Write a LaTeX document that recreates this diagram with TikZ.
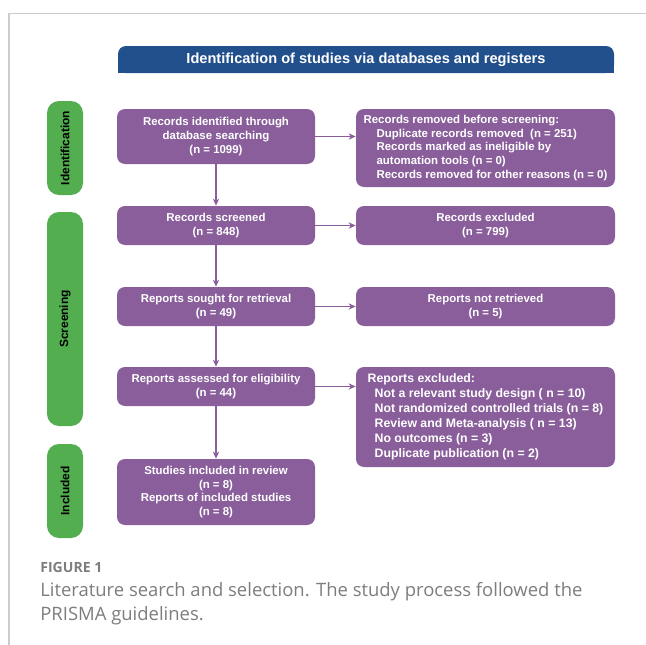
\documentclass[tikz,border=0pt]{standalone}
\usepackage{fontspec}
\setmainfont{Liberation Sans}
\newfontfamily\capfont{Open Sans}
\usetikzlibrary{arrows.meta}

\definecolor{boxpurple}{RGB}{137,94,155}
\definecolor{stagegreen}{RGB}{82,174,79}
\definecolor{headblue}{RGB}{34,80,140}
\definecolor{framegrey}{RGB}{204,204,204}
\definecolor{capgrey}{RGB}{125,125,125}

\tikzset{
  flowbox/.style={fill=boxpurple, rounded corners=0.16cm, text=white, inner sep=0pt,
    font=\fontsize{6.5}{7.9}\selectfont\bfseries, align=center},
  leftbox/.style={flowbox, minimum width=3.96cm},
  rightbox/.style={flowbox, minimum width=5.18cm},
  listbox/.style={rightbox, align=left},
  stage/.style={fill=stagegreen, rounded corners=0.24cm, rotate=90, inner sep=0pt,
    minimum height=0.72cm, font=\fontsize{6.8}{8}\selectfont\bfseries},
  flowarrow/.style={draw=boxpurple, line width=0.6pt, -{Stealth[length=4pt,width=3.6pt]}},
  captext/.style={anchor=base west, inner sep=0pt, text=capgrey}
}

\begin{document}
\begin{tikzpicture}
\useasboundingbox (0,0) rectangle (12.92,-12.90);

% Frame lines
\draw[framegrey, line width=0.6pt] (0.18,-12.90) -- (0.18,-0.27) -- (12.92,-0.27);

% Header bar
\fill[headblue, rounded corners=0.16cm] (2.36,-1.46) rectangle (12.28,-0.92);
\fill[headblue] (2.36,-1.46) rectangle (12.28,-1.20);
\node[text=white, font=\fontsize{8.3}{10}\selectfont\bfseries] (head) at (7.32,-1.20) {Identification of studies via databases and registers};

% Stage labels
\node[stage, minimum width=1.88cm] (stident) at (1.30,-2.96) {Identification};
\node[stage, minimum width=4.28cm] (stscreen) at (1.30,-6.38) {Screening};
\node[stage, minimum width=1.88cm] (stincl) at (1.30,-9.82) {Included};

% Main column
\node[leftbox, minimum height=1.10cm] (ident) at (4.32,-2.73) {Records identified through\\database searching\\(n = 1099)};
\node[leftbox, minimum height=0.78cm] (screened) at (4.32,-4.51) {Records screened\\(n = 848)};
\node[leftbox, minimum height=0.78cm] (sought) at (4.32,-6.13) {Reports sought for retrieval\\(n = 49)};
\node[leftbox, minimum height=0.78cm] (assessed) at (4.32,-7.73) {Reports assessed for eligibility\\(n = 44)};
\node[leftbox, minimum height=1.32cm] (included) at (4.32,-9.84) {Studies included in review\\(n = 8)\\Reports of included studies\\(n = 8)};

% Side column
\node[listbox, minimum height=1.56cm] (removed) at (9.71,-2.96) {Records removed before screening:\\
  \hspace*{0.26cm}Duplicate records removed~ (n = 251)\\
  \hspace*{0.26cm}Records marked as ineligible by\\
  \hspace*{0.26cm}automation tools (n = 0)\\
  \hspace*{0.26cm}Records removed for other reasons (n = 0)};
\node[rightbox, minimum height=0.78cm] (excluded) at (9.71,-4.51) {Records excluded\\(n = 799)};
\node[rightbox, minimum height=0.78cm] (notretr) at (9.71,-6.13) {Reports not retrieved\\(n = 5)};
\node[listbox, minimum height=2.0cm, font=\fontsize{7}{8.5}\selectfont\bfseries] (repexcl) at (9.71,-8.34) {Reports excluded:\\
  \hspace*{0.14cm}Not a relevant study design ( n = 10)\\
  \hspace*{0.14cm}Not randomized controlled trials (n = 8)\\
  \hspace*{0.14cm}Review and Meta-analysis ( n = 13)\\
  \hspace*{0.14cm}No outcomes (n = 3)\\
  \hspace*{0.14cm}Duplicate publication (n = 2)};

% Arrows
\draw[flowarrow] (ident) -- (screened);
\draw[flowarrow] (screened) -- (sought);
\draw[flowarrow] (sought) -- (assessed);
\draw[flowarrow] (assessed) -- (included);
\draw[flowarrow] (ident.east) -- (ident.east -| removed.west);
\draw[flowarrow] (screened) -- (excluded);
\draw[flowarrow] (sought) -- (notretr);
\draw[flowarrow] (assessed.east) -- (assessed.east -| repexcl.west);

% Caption
\node[captext, font=\capfont\bfseries\fontsize{8}{10}\selectfont] (figlabel) at (0.80,-11.44) {FIGURE 1};
\node[captext, font=\capfont\fontsize{10.5}{13.6}\selectfont] (capline1) at (0.80,-11.92) {Literature search and selection. The study process followed the};
\node[captext, font=\capfont\fontsize{10.5}{13.6}\selectfont] (capline2) at (0.80,-12.40) {PRISMA guidelines.};
\end{tikzpicture}
\end{document}
